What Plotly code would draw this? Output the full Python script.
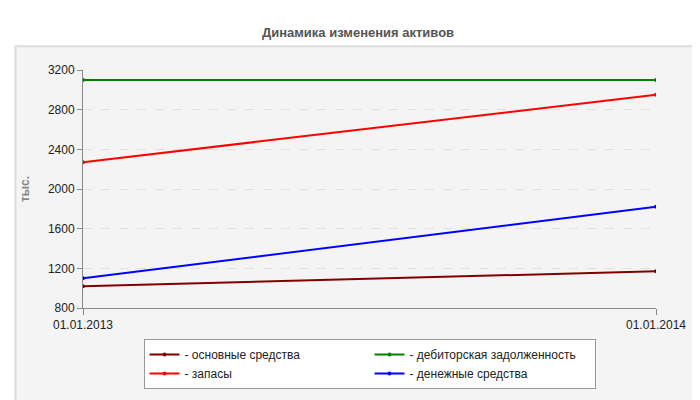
import plotly.graph_objects as go

dates = ["01.01.2013", "01.01.2014"]
names = ["- основные средства", "- дебиторская задолженность", "- запасы", "- денежные средства"]
values = [[1020, 1170], [3100, 3100], [2270, 2950], [1100, 1820]]
colors = ["#800000", "#008000", "#ff0000", "#0000ff"]
ticks = [800, 1200, 1600, 2000, 2400, 2800, 3200]

fig = go.Figure()
for n, v, c in zip(names, values, colors):
    fig.add_trace(go.Scatter(x=[0, 1], y=v, name=n, mode="lines+markers",
                             line=dict(color=c, width=2), marker=dict(size=4, color=c)))

fig.update_layout(
    width=700, height=400, paper_bgcolor="white", plot_bgcolor="#fdfdf8",
    margin=dict(l=75, r=52, t=62, b=100, autoexpand=False),
    title=dict(text="<b>Динамика изменения активов</b>", x=0.5, y=0.95, xanchor="center",
               automargin=False, font=dict(family="Liberation Sans", size=13, color="#555")),
    font=dict(family="Liberation Sans", size=12, color="#222"),
    xaxis=dict(range=[0, 1], tickvals=[0, 1], ticktext=dates, showgrid=False, automargin=False,
               showline=True, linecolor="#888", ticks="outside", ticklen=6, tickcolor="#888"),
    yaxis=dict(range=[800, 3200], tickvals=ticks, showgrid=True, gridcolor="#e0e0e0", automargin=False,
               griddash="dash", showline=True, linecolor="#888", ticks="outside", tickcolor="#888",
               title=dict(text="<b>тыс.</b>", font=dict(size=12, color="#888")), zeroline=False),
    legend=dict(orientation="h", x=0.5, xanchor="center", y=-0.13, yanchor="top",
                bgcolor="white", bordercolor="#999", borderwidth=1, entrywidth=180,
                tracegroupgap=0, font=dict(size=12)),
    shapes=[dict(type="rect", xref="paper", yref="paper", x0=-0.118, x1=1.076, y0=-0.393, y1=1.1,
                 fillcolor="#f4f4f4", line=dict(color="#dddddd"), layer="below")],
)
fig.write_html("out.html")
